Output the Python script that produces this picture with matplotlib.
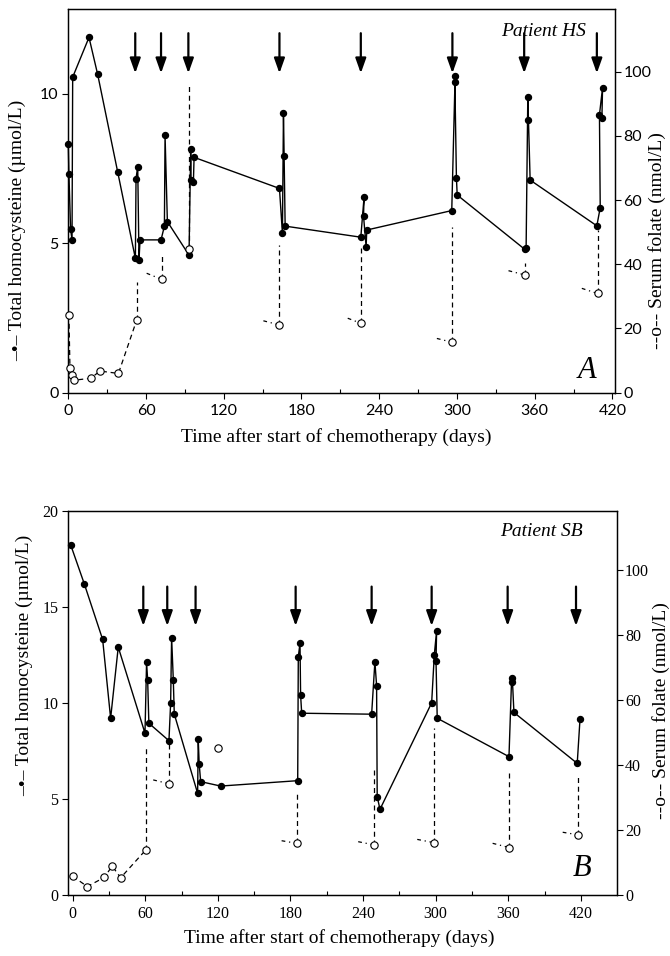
"""Homocysteine and serum folate during chemotherapy, patients HS and SB."""
import matplotlib
matplotlib.use("Agg")
import matplotlib.pyplot as plt

# ---- Patient HS (panel A) ----
hcy_a_day = [0.0, 0.5, 1.8, 2.9, 3.4, 16.0, 22.7, 38.1, 51.8, 52.3, 53.6, 54.6,
             55.4, 71.6, 74.2, 74.7, 76.5, 93.2, 94.5, 94.8, 96.6, 97.1, 163.0,
             165.3, 166.1, 166.6, 167.4, 225.8, 228.3, 227.9, 229.9, 230.4,
             296.0, 298.6, 298.4, 299.6, 300.2, 352.2, 353.4, 354.7, 355.2,
             356.5, 408.0, 410.6, 410.0, 412.4, 411.9]
hcy_a_val = [8.32, 7.31, 5.46, 5.11, 10.55, 11.88, 10.64, 7.39, 4.49, 7.16, 7.56,
             4.44, 5.11, 5.11, 5.57, 8.61, 5.72, 4.60, 8.14, 7.11, 7.06, 7.87,
             6.83, 5.33, 9.36, 7.93, 5.57, 5.20, 6.53, 5.91, 4.88, 5.44, 6.09,
             10.59, 10.40, 7.19, 6.61, 4.80, 4.85, 9.90, 9.12, 7.11, 5.58, 6.19,
             9.29, 10.20, 9.18]
fol_a_day = [0.5, 1.3, 3.1, 4.6, 17.3, 24.5, 38.7, 52.8, 72.1, 93.2, 163.0,
             226.0, 296.5, 352.2, 408.5]
fol_a_val = [24.2, 7.6, 5.5, 3.9, 4.5, 6.75, 6.0, 22.6, 35.3, 44.7, 21.1, 21.6,
             15.7, 36.7, 30.9]
fol_a_link = 8
fol_a_rise_idx = [7, 8, 9, 10, 11, 12, 13, 14]
fol_a_rise_top = [34.6, 43.4, 96.4, 46.0, 45.0, 51.7, 40.3, 50.7]
fol_a_tail_idx = [8, 10, 11, 12, 13, 14]
fol_a_tail_day = [60.5, 150.6, 215.7, 284.5, 339.8, 396.4]
fol_a_tail_val = [37.2, 22.4, 23.2, 16.9, 38.0, 32.5]
arrow_a_day = [51.7, 71.6, 92.7, 163.0, 225.8, 296.5, 351.9, 408.0]

# ---- Patient SB (panel B) ----
hcy_b_day = [-1.5, 9.6, 24.8, 31.4, 37.7, 59.8, 61.1, 62.0, 63.0, 79.6, 81.0,
             81.8, 83.2, 84.0, 103.3, 103.8, 104.6, 105.8, 122.3, 186.0, 186.5,
             187.9, 188.4, 189.3, 247.1, 249.8, 251.2, 251.7, 254.0, 296.7,
             298.9, 300.8, 300.3, 301.3, 360.6, 362.8, 363.5, 364.7, 417.0,
             419.3]
hcy_b_val = [18.2, 16.2, 13.3, 9.2, 12.9, 8.42, 12.1, 11.2, 8.94, 8.03, 10.0,
             13.4, 11.2, 9.42, 5.29, 8.1, 6.82, 5.9, 5.67, 5.95, 12.4, 13.1, 10.4,
             9.46, 9.41, 12.14, 10.9, 5.12, 4.46, 10.0, 12.5, 13.76, 12.2, 9.2,
             7.2, 11.3, 11.1, 9.5, 6.85, 9.15]
fol_b_day = [0.0, 12.1, 26.1, 32.7, 39.7, 60.3, 79.9, 119.8, 185.1, 249.3,
             298.6, 360.8, 417.9]
fol_b_val = [5.8, 2.6, 5.4, 8.9, 5.3, 13.8, 34.2, 45.1, 15.9, 15.4, 16.1, 14.6,
             18.5]
fol_b_link = 6
fol_b_rise_idx = [5, 6, 8, 9, 10, 11, 12]
fol_b_rise_top = [45.6, 46.7, 31.3, 39.0, 51.3, 38.5, 36.4]
fol_b_tail_idx = [6, 8, 9, 10, 11, 12]
fol_b_tail_day = [66.6, 172.7, 236.0, 284.8, 347.1, 405.0]
fol_b_tail_val = [35.4, 16.7, 16.4, 17.1, 15.9, 19.3]
arrow_b_day = [58.4, 78.2, 101.6, 184.3, 247.1, 296.7, 359.5, 416.0]

plt.rcParams["font.family"] = ["Liberation Serif", "DejaVu Sans"]


def panel(ax, hday, hval, fday, fval, nlink, rise_idx, rise_top, tail_idx,
          tail_day, tail_val, arrows, arrow_top, arrow_tip, xlim, ylim, ylim2,
          yticks, patient, letter, tickfont):
    ax2 = ax.twinx()

    # homocysteine, solid line with filled dots
    ax.plot(hday, hval, "-o", color="black", lw=1.0, ms=4.3, clip_on=False,
            zorder=3)

    # treatment arrows
    for d in arrows:
        ax.annotate("", xy=(d, arrow_tip), xytext=(d, arrow_top),
                    arrowprops=dict(arrowstyle="-|>,head_length=0.45,head_width=0.16",
                                    lw=1.6, color="black", shrinkA=0, shrinkB=0,
                                    mutation_scale=20))

    # serum folate, dashed line with open circles
    dash = (0, (4, 3))
    ax2.plot(fday[:nlink], fval[:nlink], color="black", lw=0.9, ls=dash,
             clip_on=False)
    for i, top in zip(rise_idx, rise_top):
        ax2.plot([fday[i], fday[i]], [fval[i], top], color="black", lw=0.9,
                 ls=dash)
    for i, d0, v0 in zip(tail_idx, tail_day, tail_val):
        ax2.plot([d0, fday[i]], [v0, fval[i]], color="black", lw=0.9,
                 ls=(0, (3, 3, 1, 3)))
    ax2.plot(fday, fval, "o", ms=5.3, mfc="white", mec="black", mew=0.8,
             clip_on=False, zorder=4)

    ax.set_xlim(*xlim)
    ax.set_ylim(*ylim)
    ax2.set_ylim(*ylim2)
    ax.set_xticks(range(0, 421, 60))
    ax.set_xticks(range(30, 421, 60), minor=True)
    ax.set_yticks(yticks)
    ax2.set_yticks(range(0, 101, 20))
    ax.tick_params(axis="x", which="major", direction="out", length=4,
                   width=0.8, pad=4, labelsize=11.5, labelfontfamily=tickfont)
    ax.tick_params(axis="x", which="minor", direction="in", length=3, width=0.8)
    ax.tick_params(axis="y", direction="out", length=4, width=0.8, pad=3,
                   labelsize=11.5, labelfontfamily=tickfont)
    ax2.tick_params(axis="y", direction="out", length=4, width=0.8, pad=2,
                    labelsize=11.5, labelfontfamily=tickfont)
    for a in (ax, ax2):
        for s in a.spines.values():
            s.set_linewidth(0.9)

    ax.text(patient[1], patient[2], patient[0], transform=ax.transAxes,
            ha="center", va="center", fontsize=14, style="italic")
    ax.text(letter[1], letter[2], letter[0], transform=ax.transAxes,
            ha="center", va="center", fontsize=22, style="italic")
    return ax2


fig = plt.figure(figsize=(6.7, 9.56), dpi=100)
ax_a = fig.add_axes([0.1019, 0.5892, 0.816, 0.4011])
ax_b = fig.add_axes([0.1019, 0.0638, 0.8185, 0.402])

ax2_a = panel(ax_a, hcy_a_day, hcy_a_val, fol_a_day, fol_a_val, fol_a_link,
              fol_a_rise_idx, fol_a_rise_top, fol_a_tail_idx, fol_a_tail_day,
              fol_a_tail_val, arrow_a_day, 12.02, 10.68, (0, 422), (0, 12.82),
              (0, 119.4), [0, 5, 10], ("Patient HS", 0.870, 0.9415),
              ("A", 0.948, 0.059), "Lato")
ax2_b = panel(ax_b, hcy_b_day, hcy_b_val, fol_b_day, fol_b_val, fol_b_link,
              fol_b_rise_idx, fol_b_rise_top, fol_b_tail_idx, fol_b_tail_day,
              fol_b_tail_val, arrow_b_day, 16.05, 14.0, (-3.6, 449.6), (0, 20),
              (0, 118.2), [0, 5, 10, 15, 20], ("Patient SB", 0.863, 0.945),
              ("B", 0.936, 0.069), "Liberation Serif")

label_pos = [(ax_a, ax2_a, (0.49, -0.1155), (-0.092, 0.424), (1.077, 0.398)),
             (ax_b, ax2_b, (0.495, -0.112), (-0.079, 0.598), (1.08, 0.481))]
for ax, ax2, xl, yl, yr in label_pos:
    ax.set_xlabel("Time after start of chemotherapy (days)", fontsize=14)
    ax.set_ylabel("–•– Total homocysteine (µmol/L)", fontsize=14)
    ax2.set_ylabel("--o-- Serum folate (nmol/L)", fontsize=14)
    ax.xaxis.set_label_coords(*xl)
    ax.yaxis.set_label_coords(*yl)
    ax2.yaxis.set_label_coords(*yr)
    for lab in (ax.xaxis.label, ax.yaxis.label, ax2.yaxis.label):
        lab.set_verticalalignment("center")
        lab.set_horizontalalignment("center")

fig.savefig("out.png", dpi=100)
